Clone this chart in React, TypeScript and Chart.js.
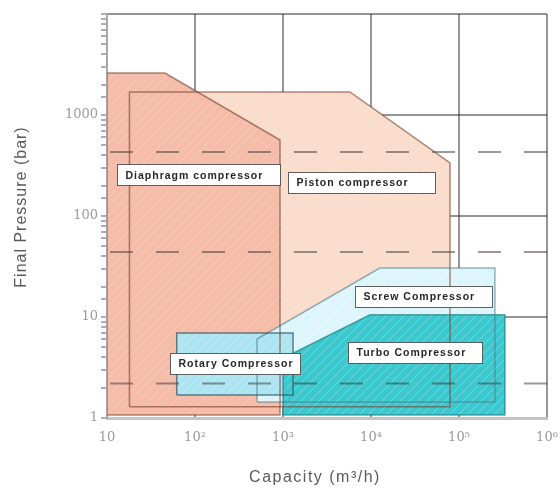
import React, { useEffect, useRef } from "react";
import { Chart, registerables } from "chart.js";

Chart.register(...registerables);

// ---- axis ticks ----
const capacityTicks = [10, 100, 1000, 10000, 100000, 1000000];
const capacityTickLabels = ["10", "10²", "10³", "10⁴", "10⁵", "10⁶"];
const pressureTicks = [1, 10, 100, 1000];
const pressureTickLabels = ["1", "10", "100", "1000"];

// ---- operating ranges: capacity (m³/h) and final pressure (bar) ----
const pistonCapacity = [18, 18, 5760, 79000, 79000];
const pistonPressure = [1.29, 1690, 1690, 335, 1.29];
const diaphragmCapacity = [10, 10, 45.6, 925, 925];
const diaphragmPressure = [1.07, 2600, 2600, 565, 1.07];
const screwCapacity = [507, 507, 12600, 256000, 256000];
const screwPressure = [1.44, 6.05, 30.5, 30.5, 1.44];
const rotaryCapacity = [62, 62, 1300, 1300];
const rotaryPressure = [1.69, 6.95, 6.95, 1.69];
const turboCapacity = [1000, 1000, 9750, 333000, 333000];
const turboPressure = [1.07, 3.9, 10.5, 10.5, 1.07];

// dashed reference pressure levels (bar)
const dashedPressureLevels = [430, 44, 2.2];

// region names and where their labels sit (capacity from/to, pressure)
const labelNames = [
  "Diaphragm compressor",
  "Piston compressor",
  "Screw Compressor",
  "Turbo Compressor",
  "Rotary Compressor",
];
const labelCapacityFrom = [13, 1140, 6580, 5480, 52];
const labelCapacityTo = [925, 53300, 237000, 182000, 1560];
const labelPressure = [255, 217, 16.1, 4.5, 3.5];

const poly = (xs: number[], ys: number[]) => {
  const pts = xs.map((x, i) => ({ x, y: ys[i] }));
  pts.push({ x: xs[0], y: ys[0] });
  return pts;
};

const isMajor = (v: number) => {
  if (!v || v <= 0) return false;
  const l = Math.log10(v);
  return Math.abs(l - Math.round(l)) < 1e-6;
};

const labelFor = (v: number, vals: number[], labels: string[]) => {
  for (let i = 0; i < vals.length; i++) {
    if (Math.abs(v - vals[i]) / vals[i] < 1e-6) return labels[i];
  }
  return "";
};

export default function App() {
  const ref = useRef<HTMLCanvasElement>(null);

  useEffect(() => {
    document.body.style.margin = "0";
    const canvas = ref.current!;
    const ctx = canvas.getContext("2d")!;

    const makePattern = (base: string, line: string) => {
      const c = document.createElement("canvas");
      c.width = 9;
      c.height = 9;
      const p = c.getContext("2d")!;
      p.fillStyle = base;
      p.fillRect(0, 0, 9, 9);
      p.strokeStyle = line;
      p.lineWidth = 1;
      p.beginPath();
      p.moveTo(0, 9);
      p.lineTo(9, 0);
      p.moveTo(-1, 1);
      p.lineTo(1, -1);
      p.moveTo(8, 10);
      p.lineTo(10, 8);
      p.stroke();
      return ctx.createPattern(c, "repeat")!;
    };

    const fillDs = (data: any[], bg: any) => ({
      data,
      showLine: true,
      fill: "shape",
      backgroundColor: bg,
      borderColor: "rgba(0,0,0,0)",
      borderWidth: 0,
      pointRadius: 0,
    });
    const lineDs = (data: any[], color: string, width: number, dash?: number[]) => ({
      data,
      showLine: true,
      fill: false,
      borderColor: color,
      borderWidth: width,
      borderDash: dash || [],
      borderDashOffset: dash ? 43 : 0,
      pointRadius: 0,
    });

    const datasets: any[] = [
      fillDs(poly(pistonCapacity, pistonPressure), makePattern("#f9dccb", "rgba(255,255,255,0.25)")),
      fillDs(poly(diaphragmCapacity, diaphragmPressure), makePattern("#f5bcaa", "rgba(255,255,255,0.2)")),
      fillDs(poly(screwCapacity, screwPressure), makePattern("#dbf5fa", "rgba(255,255,255,0.5)")),
      fillDs(poly(rotaryCapacity, rotaryPressure), makePattern("#ade4f2", "rgba(255,255,255,0.25)")),
      fillDs(poly(turboCapacity, turboPressure), makePattern("#3bc9cf", "rgba(255,255,255,0.28)")),
      ...dashedPressureLevels.map((p) =>
        lineDs([{ x: 10, y: p }, { x: 1000000, y: p }], "rgba(60,50,45,0.5)", 2, [23, 23])
      ),
      lineDs(poly(pistonCapacity, pistonPressure), "rgba(120,60,40,0.6)", 1.5),
      lineDs(poly(diaphragmCapacity, diaphragmPressure), "rgba(120,60,40,0.6)", 1.5),
      lineDs(poly(screwCapacity, screwPressure), "rgba(70,120,130,0.55)", 1.5),
      lineDs(poly(rotaryCapacity, rotaryPressure), "rgba(50,80,90,0.7)", 1.5),
      lineDs(poly(turboCapacity, turboPressure), "rgba(20,110,120,0.6)", 1.5),
    ];
    datasets.forEach((d, i) => (d.order = datasets.length - i));

    const overlay = {
      id: "overlay",
      afterDraw(chart: any) {
        const c = chart.ctx;
        const xs = chart.scales.x;
        const ys = chart.scales.y;
        const area = chart.chartArea;
        c.save();
        // label boxes
        c.font = "bold 10.5px 'Liberation Sans', Arial, sans-serif";
        (c as any).letterSpacing = "1px";
        c.textBaseline = "middle";
        c.textAlign = "left";
        labelNames.forEach((name, i) => {
          const x0 = Math.round(xs.getPixelForValue(labelCapacityFrom[i])) + 0.5;
          const x1 = Math.round(xs.getPixelForValue(labelCapacityTo[i])) + 0.5;
          const yc = ys.getPixelForValue(labelPressure[i]);
          const h = 21;
          const y0 = Math.round(yc - h / 2) + 0.5;
          c.fillStyle = "#ffffff";
          c.fillRect(x0, y0, x1 - x0, h);
          c.strokeStyle = "rgba(70,70,70,0.85)";
          c.lineWidth = 1;
          c.strokeRect(x0, y0, x1 - x0, h);
          c.fillStyle = "#262626";
          c.fillText(name, x0 + 8, yc + 1);
        });
        // axis titles
        c.fillStyle = "#5a5a5a";
        c.font = "16px 'Liberation Sans', Arial, sans-serif";
        c.textAlign = "center";
        (c as any).letterSpacing = "1.5px";
        c.fillText("Capacity (m³/h)", 315, 478);
        c.translate(22, (area.top + area.bottom) / 2 - 9);
        c.rotate(-Math.PI / 2);
        (c as any).letterSpacing = "1px";
        c.fillText("Final Pressure (bar)", 0, 0);
        c.restore();
      },
    };

    const chart = new Chart(canvas, {
      type: "scatter",
      data: { datasets },
      options: {
        responsive: false,
        animation: false,
        events: [],
        devicePixelRatio: 1,
        layout: { padding: { top: 14, right: 13, left: 0, bottom: 0 } },
        plugins: { legend: { display: false }, tooltip: { enabled: false } },
        scales: {
          x: {
            type: "logarithmic",
            min: 10,
            max: 1000000,
            z: 1,
            afterFit: (s: any) => {
              s.height = 71;
              s.paddingLeft = 0;
              s.paddingRight = 0;
            },
            border: { display: true, color: "#c4c4c4", width: 3 },
            grid: {
              drawTicks: false,
              lineWidth: 2,
              color: (c: any) => (c.tick && isMajor(c.tick.value) ? "rgba(45,40,40,0.5)" : "rgba(0,0,0,0)"),
            },
            ticks: {
              autoSkip: false,
              maxRotation: 0,
              minRotation: 0,
              padding: 12,
              color: "#9a9a9a",
              font: { family: "'DejaVu Serif', serif", size: 13 },
              callback: (v: any) => labelFor(Number(v), capacityTicks, capacityTickLabels),
            },
          },
          y: {
            type: "logarithmic",
            min: 1,
            max: 10000,
            z: 1,
            afterFit: (s: any) => {
              s.width = 107;
              s.paddingTop = 0;
              s.paddingBottom = 0;
            },
            border: { display: true, color: "#a8a8a8", width: 2 },
            grid: {
              drawTicks: true,
              tickLength: 6,
              lineWidth: 2,
              color: (c: any) => (c.tick && isMajor(c.tick.value) ? "rgba(45,40,40,0.5)" : "rgba(0,0,0,0)"),
              tickColor: "rgba(120,120,120,0.8)",
              tickWidth: 1.5,
            },
            ticks: {
              autoSkip: false,
              padding: 3,
              color: "#9a9a9a",
              font: { family: "'DejaVu Serif', serif", size: 13 },
              callback: (v: any) => labelFor(Number(v), pressureTicks, pressureTickLabels),
            },
          },
        },
      } as any,
      plugins: [overlay],
    });

    return () => chart.destroy();
  }, []);

  return (
    <div style={{ position: "fixed", left: 0, top: 0, width: 560, height: 489, background: "#fff" }}>
      <canvas ref={ref} width={560} height={489} style={{ display: "block" }} />
    </div>
  );
}
